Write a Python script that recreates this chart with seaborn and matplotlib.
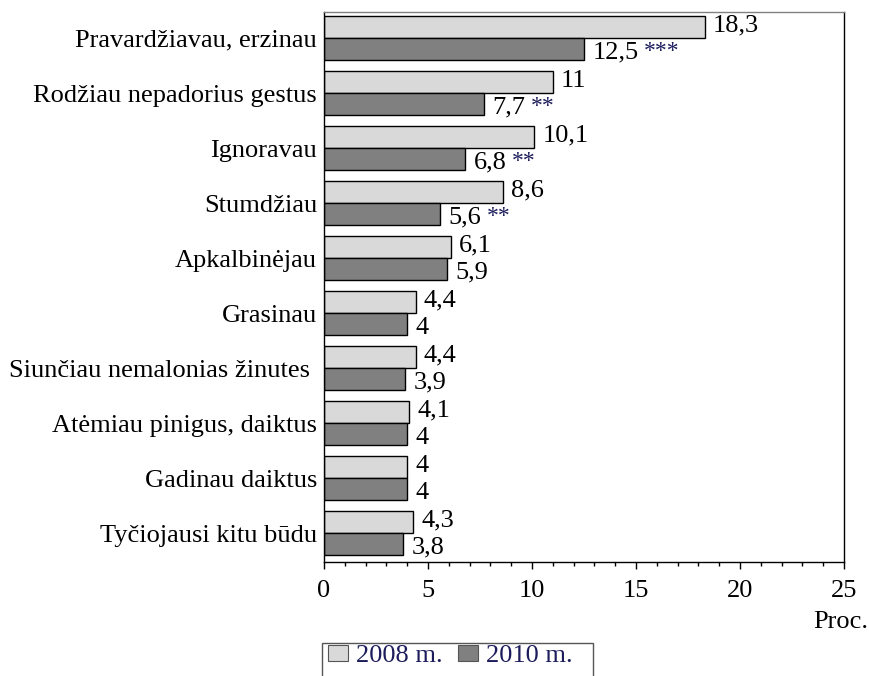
import numpy as np
import pandas as pd
import seaborn as sns
import matplotlib.pyplot as plt
from matplotlib.patches import Patch, Rectangle
from matplotlib.ticker import MultipleLocator

# data
categories = ["Pravardžiavau, erzinau", "Rodžiau nepadorius gestus", "Ignoravau",
              "Stumdžiau", "Apkalbinėjau", "Grasinau", "Siunčiau nemalonias žinutes ",
              "Atėmiau pinigus, daiktus", "Gadinau daiktus", "Tyčiojausi kitu būdu"]
vals_2008 = [18.3, 11, 10.1, 8.6, 6.1, 4.4, 4.4, 4.1, 4, 4.3]
vals_2010 = [12.5, 7.7, 6.8, 5.6, 5.9, 4, 3.9, 4, 4, 3.8]
stars_2010 = ["***", "**", "**", "**", "", "", "", "", "", ""]
years = ["2008 m.", "2010 m."]

sns.set_theme(style="white")
plt.rcParams['font.family'] = ['Liberation Serif', 'DejaVu Serif']

df = pd.DataFrame({
    "cat": categories * 2,
    "val": vals_2008 + vals_2010,
    "year": [years[0]] * len(categories) + [years[1]] * len(categories),
})

fig = plt.figure(figsize=(8.7, 6.76), dpi=100)
ax = fig.add_axes([0.3724, 0.1686, 0.5977, 0.8136])

sns.barplot(data=df, x="val", y="cat", hue="year", orient="h",
            palette=["#d9d9d9", "#808080"], width=0.8,
            edgecolor="black", linewidth=1, saturation=1, legend=False, ax=ax)

fs = 19
navy = "#1c1c5c"

def fmt(v):
    return f"{v:g}".replace(".", ",")

# value labels
for i, cont in enumerate(ax.containers):
    vals = vals_2008 if i == 0 else vals_2010
    for j, bar in enumerate(cont):
        y = bar.get_y() + bar.get_height() / 2
        dy = -0.02 if i == 0 else 0.07
        x = vals[j] + 0.4
        t = ax.text(x, y + dy, fmt(vals[j]), ha="left", va="center",
                    fontsize=fs, color="black")
        if i == 1 and stars_2010[j]:
            ax.annotate(stars_2010[j], xy=(1, 0.55), xycoords=t,
                        xytext=(4, 0), textcoords="offset points",
                        ha="left", va="center", fontsize=17, color=navy)

ax.set_xlim(0, 25)
ax.set_ylim(len(categories) - 0.473, -0.473)
ax.xaxis.set_major_locator(MultipleLocator(5))
ax.xaxis.set_minor_locator(MultipleLocator(1))
ax.tick_params(axis="x", which="major", direction="out", length=5, width=1,
               labelsize=fs, pad=8, bottom=True, colors="black")
ax.tick_params(axis="x", which="minor", direction="out", length=3, width=1, bottom=True,
               colors="black")
ax.tick_params(axis="y", length=0, labelsize=fs, pad=5, labelcolor="black")
ax.set_xlabel("")
ax.set_ylabel("")
for s in ax.spines.values():
    s.set_color("black")
    s.set_linewidth(1)
ax.spines["top"].set_color("#808080")

fig.text(868 / 870, 1 - 622 / 676, "Proc.", ha="right", va="center", fontsize=fs,
         color="black")

# legend box, cut off by the bottom edge as in the original
fig.patches.append(Rectangle((322 / 870, -0.05), (593 - 322) / 870, 0.05 + (676 - 643) / 676,
                             transform=fig.transFigure, facecolor="white",
                             edgecolor="#555555", linewidth=1))
handles = [Patch(facecolor="#d9d9d9", edgecolor="#555555", linewidth=0.8),
           Patch(facecolor="#808080", edgecolor="#555555", linewidth=0.8)]
leg = fig.legend(handles, years, loc="center left",
                 bbox_to_anchor=(328 / 870, 1 - 656 / 676), ncol=2,
                 fontsize=fs, frameon=False,
                 handlelength=0.75, handleheight=0.6, handletextpad=0.3,
                 columnspacing=0.6, borderpad=0, borderaxespad=0)
for t in leg.get_texts():
    t.set_color(navy)

fig.savefig("out.png", dpi=100)
